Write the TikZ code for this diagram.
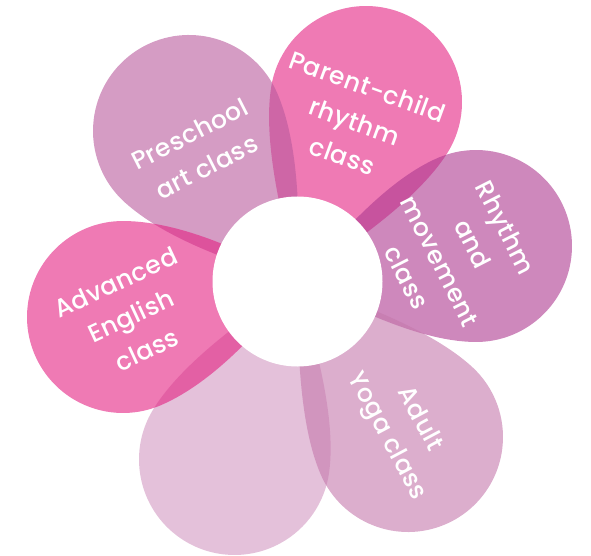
\documentclass[tikz,border=0pt]{standalone}
\usepackage{fontspec}
\setmainfont{Poppins}
\newfontfamily\lblfont[LetterSpace=2]{Poppins Medium}
\begin{document}
\begin{tikzpicture}[x=1pt,y=1pt,
  lbl/.style={text=white,align=center,font=\lblfont\fontsize{25}{37}\selectfont,inner sep=0pt}]
\definecolor{cPre}{RGB}{185,90,157}
\definecolor{cPar}{RGB}{228,33,130}
\definecolor{cRhy}{RGB}{173,57,143}
\definecolor{cYog}{RGB}{197,120,172}
\definecolor{cBot}{RGB}{210,152,193}
\definecolor{cEng}{RGB}{228,33,130}
\useasboundingbox (0,0) rectangle (591,555);
\newcommand\petal[5]{%
  \pgfmathsetmacro\pdx{#1-297.5}%
  \pgfmathsetmacro\pdy{281.5-#2}%
  \pgfmathsetmacro\pd{veclen(\pdx,\pdy)}%
  \pgfmathsetmacro\pang{atan2(\pdy,\pdx)}%
  \pgfmathsetmacro\px{\pd-#3*cos(78)}%
  \pgfmathsetmacro\py{#3*sin(78)}%
  \pgfmathsetmacro\qx{\px-0.63*#3*sin(78)}%
  \pgfmathsetmacro\qy{\py-0.63*#3*cos(78)}%
  \pgfmathsetmacro\mx{0.52*#3*cos(#5)}%
  \pgfmathsetmacro\my{0.52*#3*sin(#5)}%
  \begin{scope}[shift={(297.5,273.5)},rotate=\pang]
    \fill[#4,fill opacity=.6] (0,0) .. controls (\mx,-\my) and (\qx,-\qy) .. (\px,-\py)
      arc[start angle=-102,end angle=102,radius=#3]
      .. controls (\qx,\qy) and (\mx,\my) .. (0,0) -- cycle;
  \end{scope}}
\petal{366}{102}{96}{cPar}{34}
\petal{189}{131}{96}{cPre}{38}
\petal{476}{246}{96}{cRhy}{35}
\petal{234.5}{459.5}{95.5}{cBot}{35}
\petal{123}{317}{96}{cEng}{42}
\petal{408}{437}{95}{cYog}{35}
\node[circle,fill=white,minimum size=170pt,inner sep=0pt] (hub) at (297.5,273.5) {};
\node[lbl,rotate=-20] (parent) at (355,434) {Parent-child\\rhythm\\class};
\node[lbl,rotate=27] (preschool) at (198,404.5) {Preschool\\art class};
\node[lbl,rotate=25] (english) at (131,239) {Advanced\\English\\class};
\node[lbl,rotate=-63] (rhythm) at (456.5,302.5) {Rhythm\\and\\movement\\class};
\node[lbl,rotate=-62] (yoga) at (402.5,127) {Adult\\Yoga class};
\end{tikzpicture}
\end{document}
